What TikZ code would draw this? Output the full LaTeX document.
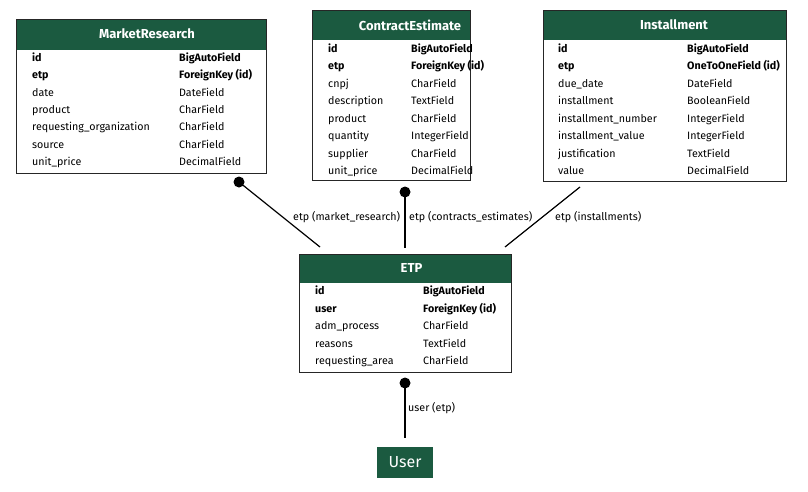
\documentclass[tikz,border=0pt]{standalone}
\usepackage{fontspec}
\setmainfont{Fira Sans}
\definecolor{hdrgreen}{HTML}{1B5A40}
\tikzset{
  hdr/.style 2 args={fill=hdrgreen, anchor=north west, inner sep=0pt,
    minimum width=#1pt, minimum height=#2pt},
  tbl/.style 2 args={draw=black!85, line width=1.3pt, anchor=north west, inner sep=0pt,
    minimum width=#1pt, minimum height=#2pt},
  title/.style={text=white, font=\fontsize{13}{15}\selectfont\bfseries},
  fld/.style={anchor=west, inner sep=0pt, font=\fontsize{10.7}{13}\selectfont,
    text height=7pt, text depth=2pt},
  lbl/.style={anchor=west, inner sep=0pt, font=\fontsize{10.7}{13}\selectfont},
  dot/.style={circle, fill=black, inner sep=0pt, minimum size=11pt},
  rel/.style={line width=1.2pt}
}
\begin{document}
\begin{tikzpicture}[x=1pt,y=-1pt]
\useasboundingbox (0,0) rectangle (808,491);

% MarketResearch
\node[hdr={250}{31}] (mrh) at (16,19) {};
\node[tbl={250}{154}] (mr) at (16,19) {};
\node[title] at (147,34) {MarketResearch};
\foreach \n/\t [count=\i] in {\textbf{id}/\textbf{BigAutoField},
  \textbf{etp}/\textbf{ForeignKey (id)}, date/DateField, product/CharField,
  requesting\_organization/CharField, source/CharField, unit\_price/DecimalField}
{
  \node[fld] (mr-\i) at (32,{59+17.35*(\i-1)}) {\n};
  \node[fld] (mr-t\i) at (179,{59+17.35*(\i-1)}) {\t};
}

% ContractEstimate
\node[hdr={158}{30}] (ceh) at (312,10) {};
\node[tbl={158}{170}] (ce) at (312,10) {};
\node[title] at (410,25) {ContractEstimate};
\foreach \n/\t [count=\i] in {\textbf{id}/\textbf{BigAutoField},
  \textbf{etp}/\textbf{ForeignKey (id)}, cnpj/CharField, description/TextField,
  product/CharField, quantity/IntegerField, supplier/CharField,
  unit\_price/DecimalField}
{
  \node[fld] (ce-\i) at (328,{49.7+17.5*(\i-1)}) {\n};
  \node[fld] (ce-t\i) at (411,{49.7+17.5*(\i-1)}) {\t};
}

% Installment
\node[hdr={243}{30}] (insh) at (543,10) {};
\node[tbl={243}{171}] (ins) at (543,10) {};
\node[title] at (674,25) {Installment};
\foreach \n/\t [count=\i] in {\textbf{id}/\textbf{BigAutoField},
  \textbf{etp}/\textbf{OneToOneField (id)}, due\_date/DateField,
  installment/BooleanField, installment\_number/IntegerField,
  installment\_value/IntegerField, justification/TextField, value/DecimalField}
{
  \node[fld] (ins-\i) at (558,{49.7+17.5*(\i-1)}) {\n};
  \node[fld] (ins-t\i) at (687,{49.7+17.5*(\i-1)}) {\t};
}

% ETP
\node[hdr={212}{29}] (etph) at (299,254) {};
\node[tbl={212}{118}] (etp) at (299,254) {};
\node[title] at (411.5,267.5) {ETP};
\foreach \n/\t [count=\i] in {\textbf{id}/\textbf{BigAutoField},
  \textbf{user}/\textbf{ForeignKey (id)}, adm\_process/CharField,
  reasons/TextField, requesting\_area/CharField}
{
  \node[fld] (etp-\i) at (315,{292.4+17.5*(\i-1)}) {\n};
  \node[fld] (etp-t\i) at (423,{292.4+17.5*(\i-1)}) {\t};
}

% User
\node[fill=hdrgreen, text=white, minimum width=56pt, minimum height=31pt,
  inner sep=0pt, font=\fontsize{16}{18}\selectfont] (user) at (405,462) {User};

% relations
\node[dot] (mrdot) at (239,182) {};
\node[dot] (cedot) at (405,192) {};
\node[dot] (etpdot) at (405,383) {};
\coordinate (insend) at (580,187);
\coordinate (etp-a) at (320,247);
\coordinate (etp-b) at (405,248);
\coordinate (etp-c) at (505,247);
\coordinate (user-a) at (405,438);

\draw[rel] (mrdot.center) -- (etp-a);
\draw[rel] (cedot.center) -- (etp-b);
\draw[rel] (insend) -- (etp-c);
\draw[rel] (etpdot.center) -- (user-a);

\node[lbl] (l1) at (293,217.5) {etp (market\_research)};
\node[lbl] (l2) at (409,217.5) {etp (contracts\_estimates)};
\node[lbl] (l3) at (555,217.5) {etp (installments)};
\node[lbl] (l4) at (408,408.5) {user (etp)};
\end{tikzpicture}
\end{document}
